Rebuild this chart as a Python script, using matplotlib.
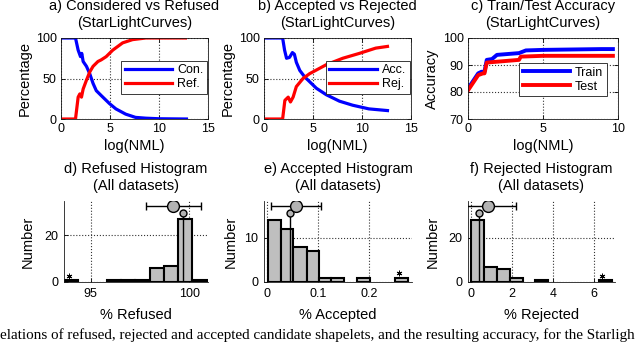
import numpy as np
import matplotlib.pyplot as plt

plt.rcParams['font.family'] = ['Liberation Sans', 'DejaVu Sans']

# a) considered vs refused (StarLightCurves)
a_con_x = [0, 1.48, 1.75, 1.99, 2.12, 2.26, 2.6, 2.93, 3.27, 3.6, 4.1, 4.44, 4.95, 5.6, 6.6, 7.6, 8.66, 10.0, 12.8]
a_con_y = [100, 100, 85, 77, 81, 71, 65, 56, 44, 35, 29, 25, 19, 12.5, 6, 2, 1, 0.3, 0]
a_ref_x = [0, 1.48, 1.75, 1.92, 2.09, 2.26, 2.6, 2.93, 3.27, 3.77, 4.1, 4.61, 5.28, 6.29, 7.3, 8.66, 12.7]
a_ref_y = [0, 0, 27, 31, 27, 37, 48, 58, 65, 71, 73, 77, 85, 94, 98, 100, 100]

# b) accepted vs rejected
b_acc_x = [0, 1.9, 2.1, 2.3, 2.6, 2.9, 3.1, 3.3, 3.65, 4.15, 4.66, 5.34, 6.35, 7.7, 9.05, 10.7, 12.6]
b_acc_y = [100, 100, 85, 75, 76, 82, 80, 70, 60, 52, 46, 38, 30, 22, 17, 12.5, 10.4]
b_rej_x = [0, 1.9, 2.13, 2.47, 2.7, 2.97, 3.3, 3.98, 4.66, 6.35, 8.04, 9.73, 11.4, 12.6]
b_rej_y = [0, 0, 23, 27, 21, 27, 40, 50, 56, 67, 75, 81, 87.5, 89.6]

# c) train/test accuracy
c_train_x = [0, 0.68, 0.9, 1.1, 1.25, 1.6, 1.93, 3.4, 3.86, 5.0, 8.9, 9.66]
c_train_y = [81.25, 86.9, 87.5, 87.5, 91.9, 92.2, 93.75, 94.4, 95.4, 95.6, 95.9, 95.9]
c_test_x = [0, 0.68, 1.0, 1.1, 1.25, 2.0, 3.4, 3.52, 5.0, 9.66]
c_test_y = [80.6, 86.25, 86.9, 86.9, 90.9, 91.25, 91.9, 93.1, 93.4, 93.4]

# d) refused histogram
d_edges = [93.66, 94.38, 95.10, 95.83, 96.55, 97.27, 97.99, 98.72, 99.44, 100.16, 100.89]
d_counts = [1, 0, 0, 1, 1, 1, 6, 7, 27, 1]
d_mean, d_mean_y, d_std = 99.19, 32.3, 1.38
d_med, d_med_y = 99.7, 29.5
d_star = (93.9, 2.7)

# e) accepted histogram
e_edges = [0.002, 0.027, 0.051, 0.077, 0.102, 0.124, 0.151, 0.175, 0.201, 0.225, 0.249, 0.275]
e_counts = [14, 12, 8, 7, 1, 1, 0, 1, 0, 0, 1]
e_mean, e_mean_y, e_std = 0.0563, 17.2, 0.049
e_med, e_med_y = 0.0445, 15.6
e_star = (0.257, 2.0)

# f) rejected histogram
f_edges = [0, 0.624, 1.25, 1.87, 2.5, 3.12, 3.74, 4.37, 4.99, 5.61, 6.24, 6.86]
f_counts = [28, 7, 6, 2, 0, 1, 0, 0, 0, 0, 1]
f_mean, f_mean_y, f_std = 0.81, 34.4, 1.36
f_med, f_med_y = 0.36, 31.5
f_star = (6.37, 2.75)

W, H = 640, 342
fig = plt.figure(figsize=(W / 100, H / 100), dpi=100)


def px_axes(x0, x1, y0, y1):
    return fig.add_axes([x0 / W, 1 - y1 / H, (x1 - x0) / W, (y1 - y0) / H])


def style(ax, box=True):
    ax.tick_params(direction='in', length=3, width=0.6, labelsize=9, pad=3,
                   top=box, right=box)
    for s in ax.spines.values():
        s.set_linewidth(0.6)
        s.set_color('0.1')
    if not box:
        ax.spines['top'].set_visible(False)
        ax.spines['right'].set_visible(False)
    ax.grid(True, linestyle=':', color='0.2', linewidth=0.8)
    ax.set_axisbelow(True)


def legend(ax, anchor):
    lg = ax.legend(loc='upper right', bbox_to_anchor=anchor, fontsize=9,
                   handlelength=3.8, labelspacing=0.15, borderpad=0.3,
                   handletextpad=0.4, fancybox=False, framealpha=1,
                   borderaxespad=0)
    lg.get_frame().set_edgecolor('0.1')
    lg.get_frame().set_linewidth(0.6)


def titled(ax, txt):
    ax.set_title(txt, fontsize=10.5, pad=8, linespacing=1.25)


# top row
ax = px_axes(61, 208, 38, 119)
style(ax)
ax.plot(a_con_x, a_con_y, color='#0000ff', lw=2.3, label='Con.')
ax.plot(a_ref_x, a_ref_y, color='#ff0000', lw=2.3, label='Ref.')
ax.set_xlim(0, 15)
ax.set_ylim(0, 100)
ax.set_xticks([0, 5, 10, 15])
ax.set_yticks([0, 50, 100])
ax.set_xlabel('log(NML)', fontsize=10.5, labelpad=3)
ax.set_ylabel('Percentage', fontsize=10.5, labelpad=3)
titled(ax, 'a) Considered vs Refused\n(StarLightCurves)')
legend(ax, (0.995, 0.72))

ax = px_axes(264, 411, 38, 119)
style(ax)
ax.plot(b_acc_x, b_acc_y, color='#0000ff', lw=2.3, label='Acc.')
ax.plot(b_rej_x, b_rej_y, color='#ff0000', lw=2.3, label='Rej.')
ax.set_xlim(0, 15)
ax.set_ylim(0, 100)
ax.set_xticks([0, 5, 10, 15])
ax.set_yticks([0, 50, 100])
ax.set_xlabel('log(NML)', fontsize=10.5, labelpad=3)
ax.set_ylabel('Percentage', fontsize=10.5, labelpad=3)
titled(ax, 'b) Accepted vs Rejected\n(StarLightCurves)')
legend(ax, (0.993, 0.72))

ax = px_axes(468, 618, 38, 119)
style(ax)
ax.plot(c_train_x, c_train_y, color='#0000ff', lw=2.8, label='Train')
ax.plot(c_test_x, c_test_y, color='#ff0000', lw=2.8, label='Test')
ax.set_xlim(0, 10)
ax.set_ylim(70, 100)
ax.set_xticks([0, 5, 10])
ax.set_yticks([70, 80, 90, 100])
ax.set_xlabel('log(NML)', fontsize=10.5, labelpad=3)
ax.set_ylabel('Accuracy', fontsize=10.5, labelpad=3)
titled(ax, 'c) Train/Test Accuracy\n(StarLightCurves)')
legend(ax, (0.927, 0.69))


# bottom row
def hist_panel(ax, edges, counts, mean, mean_y, std, med, med_y, star):
    style(ax, box=False)
    ax.tick_params(pad=4)
    lefts = np.array(edges[:-1])
    widths = np.diff(edges)
    cnt = np.array(counts)
    keep = cnt > 0
    ax.bar(lefts[keep], cnt[keep], width=widths[keep], align='edge',
           color='0.75', edgecolor='k', linewidth=1.5, zorder=2)
    ax.plot([med, med], [0, med_y], color='k', lw=1, zorder=3)
    ax.plot(med, med_y, 'o', ms=5, mfc='0.7', mec='k', mew=1, zorder=4)
    ax.errorbar(mean, mean_y, xerr=std, fmt='o', ms=8.5, mfc='0.7', mec='k',
                mew=1, ecolor='k', elinewidth=1, capsize=3, capthick=1,
                zorder=4)
    ax.plot(*star, marker=(6, 2, 0), ms=4, color='k', mew=0.7, zorder=4)


ax = px_axes(64, 208, 201, 282)
hist_panel(ax, d_edges, d_counts, d_mean, d_mean_y, d_std, d_med, d_med_y, d_star)
ax.set_xlim(93.645, 100.95)
ax.set_ylim(0, 34.5)
ax.set_xticks([95, 100])
ax.set_yticks([0, 20])
ax.set_xlabel('% Refused', fontsize=10.5, labelpad=6)
ax.set_ylabel('Number', fontsize=10.5, labelpad=7)
titled(ax, 'd) Refused Histogram\n(All datasets)')

ax = px_axes(264, 412, 201, 282)
hist_panel(ax, e_edges, e_counts, e_mean, e_mean_y, e_std, e_med, e_med_y, e_star)
ax.set_xlim(-0.006, 0.283)
ax.set_ylim(0, 18.3)
ax.set_xticks([0, 0.1, 0.2])
ax.set_xticklabels(['0', '0.1', '0.2'])
ax.set_yticks([0, 10])
ax.set_xlabel('% Accepted', fontsize=10.5, labelpad=6)
ax.set_ylabel('Number', fontsize=10.5, labelpad=5)
titled(ax, 'e) Accepted Histogram\n(All datasets)')

ax = px_axes(468, 615, 201, 282)
hist_panel(ax, f_edges, f_counts, f_mean, f_mean_y, f_std, f_med, f_med_y, f_star)
ax.set_xlim(-0.17, 7.03)
ax.set_ylim(0, 36.8)
ax.set_xticks([0, 2, 4, 6])
ax.set_yticks([0, 20])
ax.set_xlabel('% Rejected', fontsize=10.5, labelpad=6)
ax.set_ylabel('Number', fontsize=10.5, labelpad=6)
titled(ax, 'f) Rejected Histogram\n(All datasets)')

fig.text(0.0, 0.0,
         'elations of refused, rejected and accepted candidate shapelets, '
         'and the resulting accuracy, for the Starligh',
         family='Liberation Serif', fontsize=10.9, ha='left', va='bottom')

fig.savefig('out.png', dpi=100)
